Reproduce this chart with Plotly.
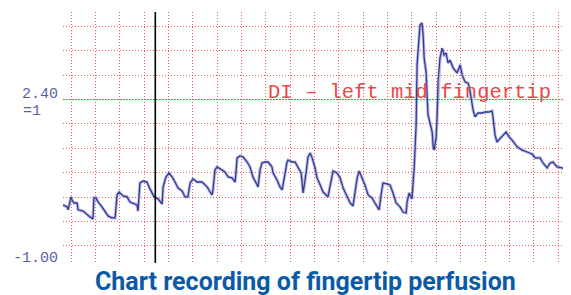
import plotly.graph_objects as go

# time (grid units) and perfusion amplitude (grid units)
t = [0.67, 0.84, 0.88, 1.00, 1.04, 1.12, 1.25, 1.29, 1.49, 1.66, 1.78, 1.90, 1.94, 2.03, 2.11, 2.27,
     2.40, 2.52, 2.68, 2.81, 2.89, 2.97, 3.14, 3.30, 3.42, 3.55, 3.71, 3.75, 3.83, 3.96, 4.12, 4.20,
     4.33, 4.41, 4.57, 4.74, 4.78, 4.90, 5.02, 5.15, 5.27, 5.39, 5.56, 5.68, 5.80, 5.89, 6.01, 6.17,
     6.38, 6.59, 6.71, 6.79, 6.83, 6.91, 7.00, 7.20, 7.32, 7.45, 7.61, 7.74, 7.82, 7.94, 8.06, 8.23,
     8.35, 8.47, 8.64, 8.68, 8.76, 8.84, 8.97, 9.09, 9.25, 9.30, 9.46, 9.58, 9.67, 9.75, 9.87, 9.91,
     10.08, 10.20, 10.32, 10.45, 10.49, 10.53, 10.65, 10.73, 10.82, 10.90, 11.02, 11.10, 11.23, 11.35,
     11.55, 11.68, 11.76, 11.92, 12.05, 12.17, 12.33, 12.46, 12.58, 12.66, 12.75, 12.83, 12.95, 13.07,
     13.20, 13.36, 13.48, 13.65, 13.73, 13.81, 13.98, 14.10, 14.22, 14.35, 14.51, 14.63, 14.76, 14.80,
     14.88, 15.00, 15.09, 15.17, 15.21, 15.29, 15.33, 15.41, 15.46, 15.50, 15.58, 15.62, 15.66, 15.74,
     15.83, 15.87, 15.91, 15.99, 16.03, 16.07, 16.15, 16.24, 16.32, 16.40, 16.48, 16.56, 16.69, 16.85,
     16.98, 17.06, 17.18, 17.30, 17.35, 17.43, 17.51, 17.59, 17.71, 17.88, 18.00, 18.13, 18.29, 18.33,
     18.41, 18.49, 18.62, 18.74, 18.86, 18.99, 19.11, 19.32, 19.52, 19.73, 19.93, 20.06, 20.26, 20.38,
     20.55, 20.67, 20.79, 20.96, 21.16, 21.37, 21.49]
perfusion = [2.68, 2.60, 2.48, 3.01, 2.89, 2.76, 2.76, 2.48, 2.43, 2.27, 2.19, 2.11, 2.97, 2.97, 2.80, 2.60,
             2.43, 2.23, 2.15, 2.15, 3.09, 3.21, 3.05, 3.01, 2.80, 2.76, 2.68, 2.43, 3.58, 3.66, 3.62, 3.42,
             3.17, 3.01, 2.93, 2.72, 3.42, 3.83, 3.99, 3.83, 3.62, 3.38, 3.25, 3.01, 3.01, 3.58, 3.75, 3.62,
             3.62, 3.42, 3.21, 3.09, 3.30, 4.11, 4.24, 4.11, 4.03, 3.83, 3.79, 3.62, 4.61, 4.69, 4.65, 4.44,
             4.24, 3.83, 3.50, 3.42, 4.11, 4.40, 4.44, 4.44, 4.24, 3.99, 3.70, 3.42, 3.30, 3.83, 4.44, 4.52,
             4.44, 4.44, 4.24, 3.99, 3.58, 3.17, 3.99, 4.65, 4.81, 4.61, 4.20, 3.79, 3.50, 3.21,
             3.01, 3.62, 4.07, 3.99, 3.79, 3.38, 3.01, 2.76, 2.64, 3.21, 3.79, 4.07, 3.79, 3.50,
             3.09, 2.97, 2.76, 2.48, 3.09, 3.58, 3.54, 3.50, 3.17, 2.76, 2.60, 2.39, 2.35, 2.80,
             3.17, 2.93, 4.20, 5.96, 8.42, 9.36, 10.06, 10.14, 9.65, 8.70, 8.13, 7.19, 6.37, 6.04,
             5.67, 5.06, 4.93, 5.43, 6.25, 7.72, 8.70, 9.11, 8.83, 8.91, 8.50, 8.62, 8.30, 8.09,
             8.42, 8.01, 7.72, 7.68, 7.52, 7.07, 6.57, 6.29, 6.45, 6.45, 6.49, 6.49, 6.53, 6.25,
             5.55, 5.26, 5.39, 5.55, 5.67, 5.47, 5.34, 5.06, 4.93, 4.85, 4.77, 4.61, 4.61, 4.40,
             4.20, 4.40, 4.44, 4.24, 4.20, 4.11, 4.11]

grid_x = list(range(1, 22))
grid_y = list(range(1, 11))
marker_t = 4.46
ref_level = 7
label_top = "2.40"
label_unit = "=1"
label_bottom = "-1.00"
annotation_text = "DI – left mid fingertip"
title_text = "Chart recording of fingertip perfusion"

fig = go.Figure()
fig.add_trace(go.Scatter(x=t, y=perfusion, mode="lines",
                         line=dict(color="rgba(120,125,205,0.5)", width=3.2), hoverinfo="skip"))
fig.add_trace(go.Scatter(x=t, y=perfusion, mode="lines",
                         line=dict(color="#343a94", width=1.3)))

fig.add_shape(type="line", xref="paper", yref="y", x0=0, x1=1, y0=ref_level, y1=ref_level,
              line=dict(color="rgba(235,60,60,0.85)", width=1, dash="2px,1px"), layer="below")
fig.add_shape(type="line", xref="x", yref="paper", x0=marker_t, x1=marker_t, y0=0, y1=1,
              line=dict(color="black", width=1.6))

lab_font = dict(family="Liberation Mono, DejaVu Sans Mono, monospace", size=15, color="#5a5ea8")
fig.add_annotation(text=label_top, xref="paper", yref="y", x=-0.006, y=7.2,
                   xanchor="right", yanchor="middle", showarrow=False, font=lab_font)
fig.add_annotation(text=label_unit, xref="paper", yref="y", x=-0.083, y=6.5,
                   xanchor="left", yanchor="middle", showarrow=False, font=lab_font)
fig.add_annotation(text=label_bottom, xref="paper", yref="y", x=-0.006, y=0.47,
                   xanchor="right", yanchor="middle", showarrow=False, font=lab_font)
fig.add_annotation(text=annotation_text, xref="x", yref="y", x=9.0, y=7.3,
                   xanchor="left", yanchor="middle", showarrow=False,
                   font=dict(family="Liberation Mono, Courier New, monospace", size=20.5,
                             color="#e84848"))
fig.add_annotation(text="<b>" + title_text + "</b>", xref="paper", yref="paper",
                   x=0.477, y=-0.075, xanchor="center", yanchor="middle", showarrow=False,
                   font=dict(family="Liberation Sans Narrow, Roboto, Open Sans, sans-serif",
                             size=25, color="#0b5aa7"))

grid_style = dict(showgrid=True, gridcolor="rgba(235,60,60,0.8)", gridwidth=1, griddash="1px,2px",
                  zeroline=False, showline=False, showticklabels=False, ticks="")
fig.update_xaxes(range=[0.67, 21.53], tickvals=grid_x, **grid_style)
fig.update_yaxes(range=[0.30, 10.59], tickvals=grid_y, **grid_style)

# the page adds an 8px body margin, so the figure is 8px smaller and margins reduced by 8px
fig.update_layout(width=563, height=287, margin=dict(l=55, r=0, t=4, b=32),
                  paper_bgcolor="white", plot_bgcolor="white", showlegend=False)
fig.write_html("out.html")
